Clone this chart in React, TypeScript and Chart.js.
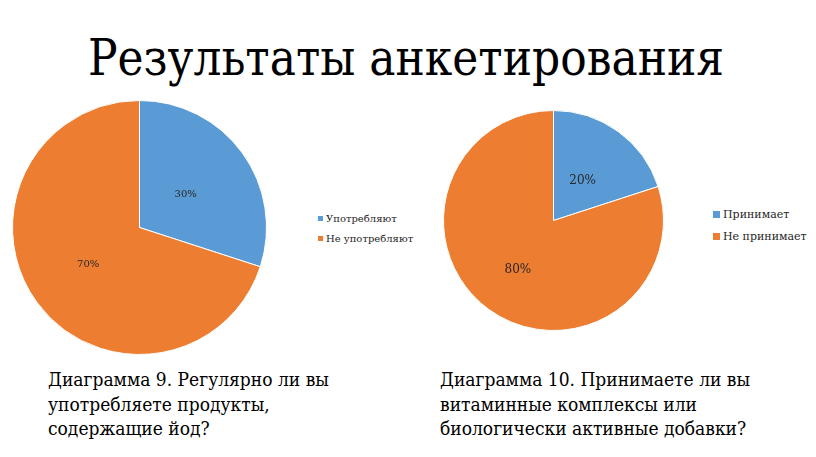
import React, { useEffect, useRef } from "react";
import Chart from "chart.js/auto";

const titleText = "Результаты анкетирования";

const labels1 = ["Употребляют", "Не употребляют"];
const values1 = [30, 70];
const caption1 = ["Диаграмма 9. Регулярно ли вы", "употребляете продукты,", "содержащие йод?"];

const labels2 = ["Принимает", "Не принимает"];
const values2 = [20, 80];
const caption2 = ["Диаграмма 10. Принимаете ли вы", "витаминные комплексы или", "биологически активные добавки?"];

const colors = ["#5B9BD5", "#ED7D31"];

const SERIF = "'DejaVu Serif', 'Liberation Serif', serif";

type PieProps = {
  labels: string[];
  values: number[];
  size: number;
  left: number;
  top: number;
  fontSize: number;
  ratios: number[];
};

function PieChart({ labels, values, size, left, top, fontSize, ratios }: PieProps) {
  const ref = useRef<HTMLCanvasElement | null>(null);
  useEffect(() => {
    if (!ref.current) return;
    const labelPlugin = {
      id: "pctLabels",
      afterDatasetsDraw(chart: any) {
        const ctx = chart.ctx;
        const meta = chart.getDatasetMeta(0);
        ctx.save();
        ctx.font = `${fontSize}px ${SERIF}`;
        ctx.fillStyle = "#262626";
        ctx.textAlign = "center";
        ctx.textBaseline = "middle";
        meta.data.forEach((el: any, i: number) => {
          const p = el.getProps(["x", "y", "startAngle", "endAngle", "outerRadius"], true);
          const mid = (p.startAngle + p.endAngle) / 2;
          const r = p.outerRadius * ratios[i];
          ctx.fillText(`${values[i]}%`, p.x + Math.cos(mid) * r, p.y + Math.sin(mid) * r);
        });
        ctx.restore();
      },
    };
    const chart = new Chart(ref.current, {
      type: "pie",
      data: {
        labels,
        datasets: [
          {
            data: values,
            backgroundColor: colors,
            borderColor: "#ffffff",
            borderWidth: 1,
          },
        ],
      },
      options: {
        responsive: false,
        animation: false,
        layout: { padding: 0 },
        plugins: { legend: { display: false }, tooltip: { enabled: false } },
      },
      plugins: [labelPlugin],
    });
    return () => chart.destroy();
  }, []);
  return (
    <canvas
      ref={ref}
      width={size}
      height={size}
      style={{ position: "absolute", left, top, width: size, height: size }}
    />
  );
}

function Legend({ labels, left, top, fontSize, gap, box }: { labels: string[]; left: number; top: number; fontSize: number; gap: number; box: number }) {
  return (
    <div style={{ position: "absolute", left, top, fontFamily: SERIF, fontSize, color: "#262626" }}>
      {labels.map((l, i) => (
        <div key={i} style={{ display: "flex", alignItems: "center", height: gap, whiteSpace: "nowrap" }}>
          <span style={{ display: "inline-block", width: box, height: box, background: colors[i], marginRight: 3 }} />
          <span>{l}</span>
        </div>
      ))}
    </div>
  );
}

function Caption({ lines, left, top, width }: { lines: string[]; left: number; top: number; width: number }) {
  return (
    <div
      style={{
        position: "absolute",
        left,
        top,
        width,
        fontFamily: SERIF,
        fontSize: 18,
        lineHeight: "24.5px",
        color: "#000",
        transform: "scaleX(0.95)",
        transformOrigin: "0 50%",
      }}
    >
      {lines.map((l, i) => (
        <div key={i} style={{ whiteSpace: "nowrap" }}>
          {l}
        </div>
      ))}
    </div>
  );
}

export default function App() {
  return (
    <div style={{ position: "absolute", left: 0, top: 0, width: 816, height: 457, background: "#fff", overflow: "hidden" }}>
      <div
        style={{
          position: "absolute",
          left: 0,
          top: 23,
          width: 812,
          textAlign: "center",
          fontFamily: SERIF,
          fontSize: 50,
          lineHeight: "70px",
          color: "#000",
          transform: "scaleX(0.88)",
          transformOrigin: "406px 50%",
        }}
      >
        {titleText}
      </div>
      <PieChart labels={labels1} values={values1} size={255} left={12} top={100} fontSize={10} ratios={[0.45, 0.5]} />
      <Legend labels={labels1} left={318} top={208} fontSize={10} gap={20} box={5} />
      <PieChart labels={labels2} values={values2} size={221} left={443} top={110} fontSize={12} ratios={[0.45, 0.55]} />
      <Legend labels={labels2} left={713} top={203} fontSize={11} gap={22} box={7} />
      <Caption lines={caption1} left={48} top={368} width={300} />
      <Caption lines={caption2} left={440} top={368} width={330} />
    </div>
  );
}
